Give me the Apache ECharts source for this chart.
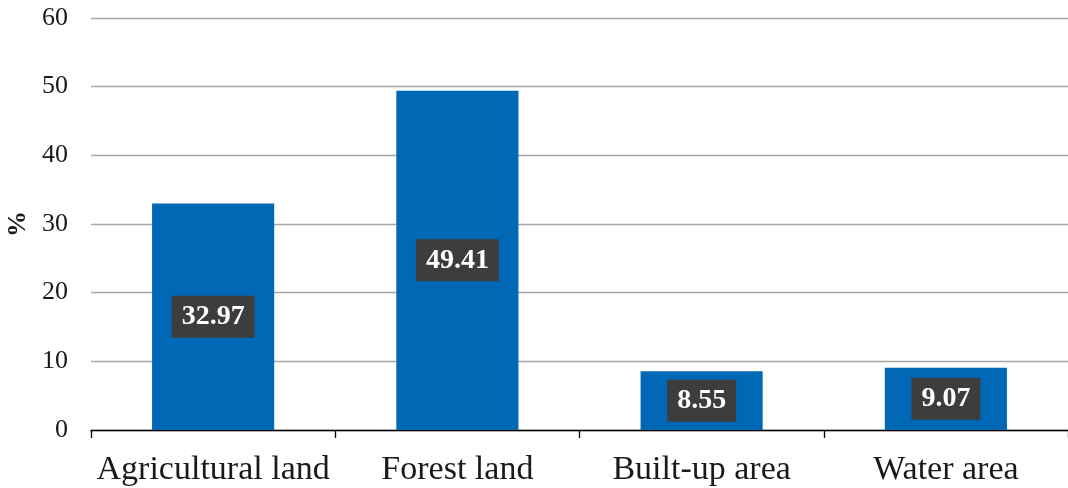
<!DOCTYPE html>
<html>
<head>
<meta charset="utf-8">
<script src="https://cdn.jsdelivr.net/npm/echarts@6/dist/echarts.min.js"></script>
<style>html,body{margin:0;padding:0;background:#fff;}#c{width:1068px;height:488px;}</style>
</head>
<body>
<div id="c"></div>
<script>
const categories = ['Agricultural land', 'Forest land', 'Built-up area', 'Water area'];
const values = [32.97, 49.41, 8.55, 9.07];
const yTicks = [0, 10, 20, 30, 40, 50, 60];

const chart = echarts.init(document.getElementById('c'), null, {renderer: 'canvas'});
chart.setOption({
  animation: false,
  grid: {left: 91, right: 0, top: 18, bottom: 58, containLabel: false, outerBoundsMode: 'none'},
  xAxis: {
    type: 'category',
    data: categories,
    boundaryGap: true,
    axisLine: {show: true, lineStyle: {color: '#000', width: 1.3}},
    axisTick: {show: true, interval: 0, length: 8, lineStyle: {color: '#000', width: 1.3}},
    axisLabel: {interval: 0, fontFamily: 'Liberation Serif', fontSize: 34, color: '#1a1a1a', margin: 23, hideOverlap: false}
  },
  yAxis: {
    type: 'value',
    min: yTicks[0], max: yTicks[yTicks.length - 1], interval: 10,
    name: '%',
    nameLocation: 'middle',
    nameGap: 57,
    nameRotate: 90,
    nameTextStyle: {fontFamily: 'Liberation Serif', fontSize: 26, fontWeight: 'bold', color: '#1a1a1a'},
    axisLine: {show: false},
    axisTick: {show: false},
    splitLine: {show: true, lineStyle: {color: '#a6a6a6', width: 1.3}},
    axisLabel: {fontFamily: 'Liberation Serif', fontSize: 26, color: '#1a1a1a', margin: 23}
  },
  series: [{
    type: 'bar',
    data: values,
    barWidth: '50%',
    itemStyle: {color: '#0068b5'},
    label: {
      show: true,
      position: 'inside',
      formatter: p => p.value.toFixed(2),
      fontFamily: 'Liberation Serif',
      fontSize: 28,
      fontWeight: 'bold',
      color: '#fff',
      backgroundColor: '#3d3d3d',
      padding: [8, 10, 6, 10]
    }
  }]
});
</script>
</body>
</html>
